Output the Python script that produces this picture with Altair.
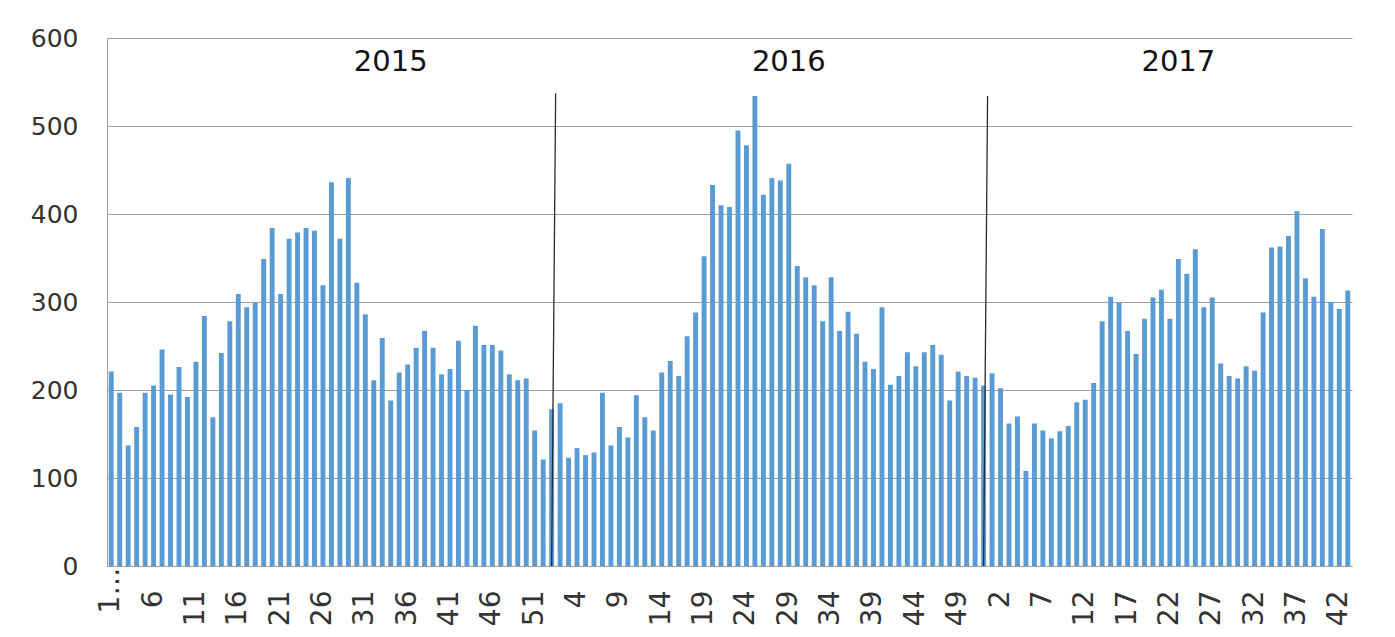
import altair as alt
import pandas as pd

# Weekly counts
values_2015 = [221, 197, 137, 158, 197, 205, 246, 195, 226, 192,
               232, 284, 169, 242, 278, 309, 294, 299, 349, 384,
               309, 372, 379, 384, 381, 319, 436, 372, 441, 322,
               286, 211, 259, 188, 220, 229, 248, 267, 248, 218,
               224, 256, 200, 273, 251, 251, 245, 218, 211, 213,
               154, 121]
values_2016 = [178, 185, 123, 134, 126, 129, 197, 137, 158, 146,
               194, 169, 154, 220, 233, 216, 261, 288, 352, 433,
               410, 408, 495, 478, 534, 422, 441, 438, 457, 341,
               328, 319, 278, 328, 267, 289, 264, 232, 224, 294,
               206, 216, 243, 227, 243, 251, 240, 188, 221, 216,
               214, 205]
values_2017 = [219, 202, 162, 170, 108, 162, 154, 145, 153, 159,
               186, 189, 208, 278, 306, 299, 267, 241, 281, 305,
               314, 281, 349, 332, 360, 294, 305, 230, 216, 213,
               227, 222, 288, 362, 363, 375, 403, 327, 306, 383,
               300, 292, 313]
years = ["2015", "2016", "2017"]

# annotations: year captions (anchored on a bar) and hand-drawn separators
year_label_bar = [34, 81, 127]
year_label_value = [573, 573, 573]
separator_bar = [53, 104]
separator_top = [537, 534]

rows = []
pos = 0
for yr, vals in zip(years, [values_2015, values_2016, values_2017]):
    for w, v in enumerate(vals, start=1):
        pos += 1
        rows.append({"pos": pos, "year": yr, "week": w, "value": v})
df = pd.DataFrame(rows)
n = len(df)
n15, n16 = len(values_2015), len(values_2016)

year_df = pd.DataFrame({"pos": year_label_bar, "v": year_label_value, "year": years})
sep_df = pd.DataFrame({"pos": separator_bar, "top": separator_top, "bottom": [0, 0]})

label_expr = (
    f"datum.value == 1 ? '1\u2026' : (datum.value <= {n15} ? '' + datum.value : "
    f"(datum.value <= {n15 + n16} ? '' + (datum.value - {n15}) : '' + (datum.value - {n15 + n16})))"
)

FONT = "DejaVu Sans"
xscale = alt.Scale(domain=list(range(1, n + 1)), paddingInner=0.42, paddingOuter=0.21)

bars = alt.Chart(df).mark_bar(color="#5B9BD5").encode(
    x=alt.X(
        "pos:O",
        scale=xscale,
        title=None,
        axis=alt.Axis(
            values=[p for p in range(1, n + 1) if (p - 1) % 5 == 0],
            labelExpr=label_expr,
            labelAngle=-90,
            labelAlign={"condition": {"test": "datum.value == 1", "value": "center"}, "value": "right"},
            labelFont="Liberation Sans Narrow, DejaVu Sans",
            labelFontSize=28,
            labelColor="#333333",
            labelPadding=24,
            ticks=False,
            domainColor="#9e9e9e",
            domainWidth=1,
            grid=False,
        ),
    ),
    y=alt.Y(
        "value:Q",
        scale=alt.Scale(domain=[0, 600], nice=False),
        title=None,
        axis=alt.Axis(
            values=[0, 100, 200, 300, 400, 500, 600],
            labelFont=FONT,
            labelFontSize=25,
            labelColor="#333333",
            labelPadding=29,
            ticks=False,
            domainColor="#9e9e9e",
            gridColor="#9e9e9e",
            gridWidth=1,
        ),
    ),
)

seps = alt.Chart(sep_df).mark_rule(color="#2b2b2b", strokeWidth=1.3, xOffset=4).encode(
    x=alt.X("pos:O", scale=xscale),
    x2=alt.X2("pos", bandPosition=0.5),
    y="top:Q",
    y2="bottom:Q",
)

labels = alt.Chart(year_df).mark_text(font=FONT, fontSize=29, color="#111111").encode(
    x=alt.X("pos:O", scale=xscale),
    y="v:Q",
    text="year:N",
)

chart = (
    alt.layer(bars, seps, labels)
    .properties(
        width=1245,
        height=528,
        autosize=alt.AutoSizeParams(type="none"),
        padding={"left": 99, "top": 30, "right": 35, "bottom": 68},
    )
    .configure_view(strokeWidth=0)
)

chart.save("out.html", embed_options={"renderer": "svg", "actions": False})
